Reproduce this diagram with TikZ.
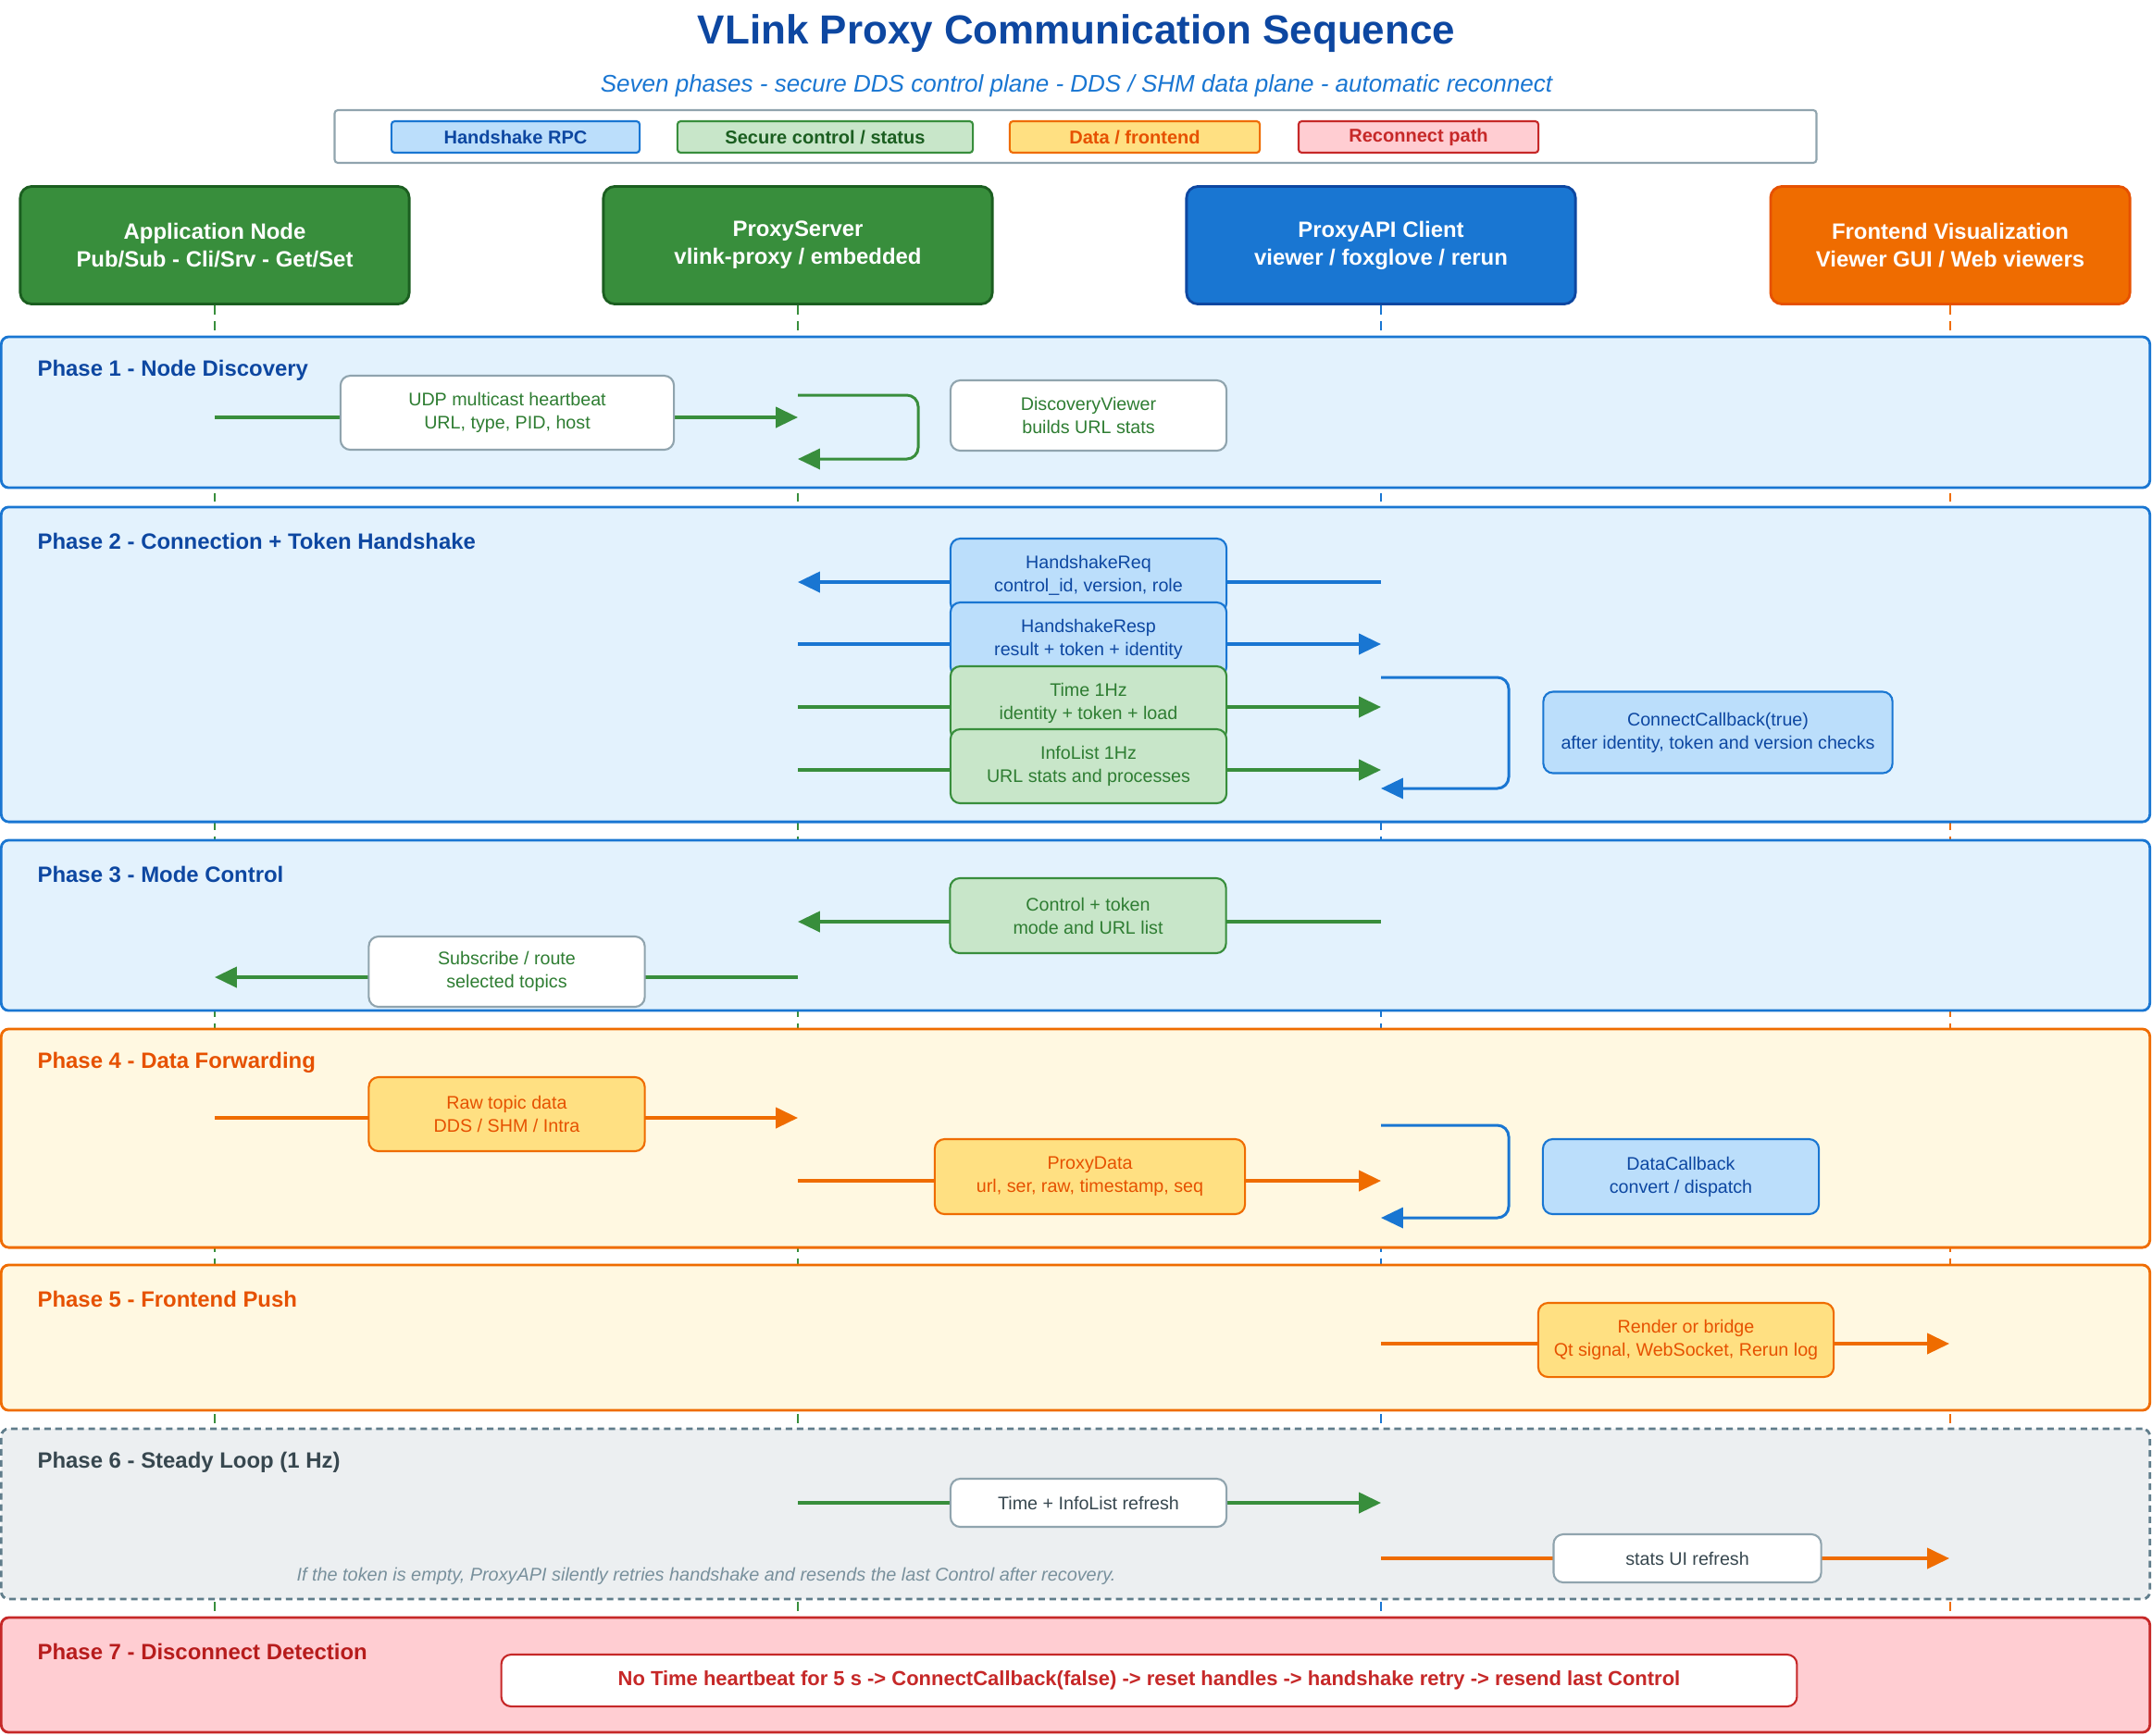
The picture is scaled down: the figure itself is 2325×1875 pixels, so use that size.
\documentclass[tikz,border=0pt]{standalone}
\usepackage{fontspec}
\setmainfont{Liberation Sans}
\usetikzlibrary{arrows.meta,positioning}

\definecolor{grnA}{HTML}{388E3C}
\definecolor{grnD}{HTML}{1B5E20}
\definecolor{grnT}{HTML}{2E7D32}
\definecolor{grnL}{HTML}{C8E6C9}
\definecolor{bluA}{HTML}{1976D2}
\definecolor{bluD}{HTML}{0D47A1}
\definecolor{bluL}{HTML}{BBDEFB}
\definecolor{bluP}{HTML}{E3F2FD}
\definecolor{orgA}{HTML}{EF6C00}
\definecolor{orgD}{HTML}{E65100}
\definecolor{orgL}{HTML}{FFE082}
\definecolor{orgP}{HTML}{FFF8E1}
\definecolor{redA}{HTML}{C62828}
\definecolor{redD}{HTML}{B71C1C}
\definecolor{redL}{HTML}{FFCDD2}
\definecolor{slateA}{HTML}{90A4AE}
\definecolor{slateM}{HTML}{607D8B}
\definecolor{slateD}{HTML}{37474F}
\definecolor{slateN}{HTML}{78909C}
\definecolor{slateL}{HTML}{ECEFF1}

\begin{document}
\begin{tikzpicture}[
  x=0.01cm,
  y=-0.01cm,
  font=\fontsize{5.6}{7.1}\selectfont,
  actor/.style={draw, rounded corners=3.5pt, line width=0.8pt, minimum width=4.2cm, minimum height=1.27cm, align=center, text=white, font=\fontsize{6.8}{8.5}\selectfont\bfseries},
  phase/.style={draw, rounded corners=2.3pt, line width=0.8pt, minimum width=23.2cm},
  phasetitle/.style={anchor=west, inner sep=0pt, font=\fontsize{6.8}{8}\selectfont\bfseries},
  msg/.style={draw, rounded corners=3pt, line width=0.6pt, minimum width=2.98cm, minimum height=0.8cm, align=center},
  plainmsg/.style={msg, fill=white, draw=slateA},
  bluemsg/.style={msg, fill=bluL, draw=bluA, text=bluD},
  greenmsg/.style={msg, fill=grnL, draw=grnA, text=grnT},
  orangemsg/.style={msg, fill=orgL, draw=orgA, text=orgD},
  legenditem/.style={draw, rounded corners=1pt, line width=0.6pt, minimum height=0.34cm, inner sep=0pt, font=\fontsize{5.7}{7}\selectfont\bfseries},
  lifeline/.style={line width=0.6pt, dash pattern=on 2.8pt off 2pt},
  msgline/.style={line width=1pt, -{Triangle[length=6.8pt,width=6.3pt]}},
  selfloop/.style={line width=0.85pt, rounded corners=3.5pt, -{Triangle[length=6.8pt,width=6.3pt]}}
]
  \useasboundingbox (0,0) rectangle (2325,1875);

  % header
  \node[text=bluD, font=\fontsize{12.5}{15}\selectfont\bfseries] (title) at (1163,36) {VLink Proxy Communication Sequence};
  \node[text=bluA, font=\fontsize{7.4}{9}\selectfont\itshape] (subtitle) at (1163,93) {Seven phases - secure DDS control plane - DDS / SHM data plane - automatic reconnect};

  \node[draw=slateA, fill=white, rounded corners=1pt, line width=0.6pt, minimum width=16cm, minimum height=0.57cm] (legbox) at (1162,147.5) {};
  \node[legenditem, fill=bluL, draw=bluA, text=bluD, minimum width=2.68cm] (lg1) at (557,148) {Handshake RPC};
  \node[legenditem, fill=grnL, draw=grnA, text=grnD, minimum width=3.19cm] (lg2) at (891.5,148) {Secure control / status};
  \node[legenditem, fill=orgL, draw=orgA, text=orgD, minimum width=2.70cm] (lg3) at (1226,148) {Data / frontend};
  \node[legenditem, fill=redL, draw=redA, text=redA, minimum width=2.59cm] (lg4) at (1532.5,148) {Reconnect path};

  % participants
  \node[actor, fill=grnA, draw=grnD] (app) at (232,265) {Application Node\\Pub/Sub - Cli/Srv - Get/Set};
  \node[actor, fill=grnA, draw=grnD] (server) at (862,265) {ProxyServer\\vlink-proxy / embedded};
  \node[actor, fill=bluA, draw=bluD] (client) at (1492,265) {ProxyAPI Client\\viewer / foxglove / rerun};
  \node[actor, fill=orgA, draw=orgD, minimum width=3.88cm] (front) at (2107,265) {Frontend Visualization\\Viewer GUI / Web viewers};

  \coordinate (bottom) at (0,1872);
  \draw[lifeline, grnA] (app.south) -- (app.south |- bottom);
  \draw[lifeline, grnA] (server.south) -- (server.south |- bottom);
  \draw[lifeline, bluA] (client.south) -- (client.south |- bottom);
  \draw[lifeline, orgA] (front.south) -- (front.south |- bottom);

  % phase frames
  \node[phase, fill=bluP, draw=bluA, minimum height=1.63cm] (ph1) at (1162,445.5) {};
  \node[phase, fill=bluP, draw=bluA, minimum height=3.40cm] (ph2) at (1162,718) {};
  \node[phase, fill=bluP, draw=bluA, minimum height=1.84cm] (ph3) at (1162,1000) {};
  \node[phase, fill=orgP, draw=orgA, minimum height=2.36cm] (ph4) at (1162,1230) {};
  \node[phase, fill=orgP, draw=orgA, minimum height=1.57cm] (ph5) at (1162,1445.5) {};
  \node[phase, fill=slateL, draw=slateM, dash pattern=on 2pt off 1.4pt, minimum height=1.84cm] (ph6) at (1162,1636) {};
  \node[phase, fill=redL, draw=redA, minimum height=1.24cm] (ph7) at (1162,1810) {};

  \node[phasetitle, text=bluD] (ph1t) at ([shift={(40,38)}]ph1.north west) {Phase 1 - Node Discovery};
  \node[phasetitle, text=bluD] (ph2t) at ([shift={(40,38)}]ph2.north west) {Phase 2 - Connection + Token Handshake};
  \node[phasetitle, text=bluD] (ph3t) at ([shift={(40,38)}]ph3.north west) {Phase 3 - Mode Control};
  \node[phasetitle, text=orgD] (ph4t) at ([shift={(40,38)}]ph4.north west) {Phase 4 - Data Forwarding};
  \node[phasetitle, text=orgD] (ph5t) at ([shift={(40,38)}]ph5.north west) {Phase 5 - Frontend Push};
  \node[phasetitle, text=slateD] (ph6t) at ([shift={(40,38)}]ph6.north west) {Phase 6 - Steady Loop (1 Hz)};
  \node[phasetitle, text=redD] (ph7t) at ([shift={(40,38)}]ph7.north west) {Phase 7 - Disconnect Detection};

  % phase 1
  \coordinate (p1a) at (232,451);
  \coordinate (p1s) at (862,451);
  \draw[msgline, grnA] (p1a) -- (p1s);
  \node[plainmsg, text=grnT, minimum width=3.6cm] (udp) at (548,446) {UDP multicast heartbeat\\URL, type, PID, host};
  \coordinate (p1lt) at (862,427);
  \coordinate (p1lb) at (862,496);
  \draw[selfloop, grnA] (p1lt) -- ++(130,0) -- ++(0,69) -- (p1lb);
  \node[plainmsg, text=grnT, minimum height=0.76cm] (disc) at (1176,449) {DiscoveryViewer\\builds URL stats};

  % phase 2
  \coordinate (hqC) at (1492,629);
  \coordinate (hqS) at (862,629);
  \draw[msgline, bluA] (hqC) -- (hqS);
  \node[bluemsg] (hreq) at (1176,622) {HandshakeReq\\control\_id, version, role};
  \coordinate (hpS) at (862,696);
  \coordinate (hpC) at (1492,696);
  \draw[msgline, bluA] (hpS) -- (hpC);
  \node[bluemsg] (hresp) at (1176,691) {HandshakeResp\\result + token + identity};
  \coordinate (tmS) at (862,764);
  \coordinate (tmC) at (1492,764);
  \draw[msgline, grnA] (tmS) -- (tmC);
  \node[greenmsg] (time) at (1176,760) {Time 1Hz\\identity + token + load};
  \coordinate (ilS) at (862,832);
  \coordinate (ilC) at (1492,832);
  \draw[msgline, grnA] (ilS) -- (ilC);
  \node[greenmsg] (info) at (1176,828) {InfoList 1Hz\\URL stats and processes};
  \coordinate (cbT) at (1492,732);
  \coordinate (cbB) at (1492,852);
  \draw[selfloop, bluA] (cbT) -- ++(138,0) -- ++(0,120) -- (cbB);
  \node[bluemsg, minimum width=3.77cm, minimum height=0.88cm] (ccb) at (1856,791.5) {ConnectCallback(true)\\after identity, token and version checks};

  % phase 3
  \coordinate (ctC) at (1492,996);
  \coordinate (ctS) at (862,996);
  \draw[msgline, grnA] (ctC) -- (ctS);
  \node[greenmsg, minimum height=0.81cm] (ctrl) at (1175.5,989.5) {Control + token\\mode and URL list};
  \coordinate (subS) at (862,1056);
  \coordinate (subA) at (232,1056);
  \draw[msgline, grnA] (subS) -- (subA);
  \node[plainmsg, text=grnT, minimum height=0.76cm] (sub) at (547.5,1050) {Subscribe / route\\selected topics};

  % phase 4
  \coordinate (rawA) at (232,1208);
  \coordinate (rawS) at (862,1208);
  \draw[msgline, orgA] (rawA) -- (rawS);
  \node[orangemsg] (raw) at (547.5,1204) {Raw topic data\\DDS / SHM / Intra};
  \coordinate (pdS) at (862,1276);
  \coordinate (pdC) at (1492,1276);
  \draw[msgline, orgA] (pdS) -- (pdC);
  \node[orangemsg, minimum width=3.35cm, minimum height=0.81cm] (pdata) at (1177.5,1271.5) {ProxyData\\url, ser, raw, timestamp, seq};
  \coordinate (dcT) at (1492,1216);
  \coordinate (dcB) at (1492,1316);
  \draw[selfloop, bluA] (dcT) -- ++(138,0) -- ++(0,100) -- (dcB);
  \node[bluemsg, minimum height=0.81cm] (dcb) at (1816,1271.5) {DataCallback\\convert / dispatch};

  % phase 5
  \coordinate (rbC) at (1492,1452);
  \coordinate (rbF) at (2106,1452);
  \draw[msgline, orgA] (rbC) -- (rbF);
  \node[orangemsg, minimum width=3.19cm] (render) at (1821.5,1448) {Render or bridge\\Qt signal, WebSocket, Rerun log};

  % phase 6
  \coordinate (srS) at (862,1624);
  \coordinate (srC) at (1492,1624);
  \draw[msgline, grnA] (srS) -- (srC);
  \node[plainmsg, text=slateD, minimum height=0.52cm] (refresh) at (1176,1624) {Time + InfoList refresh};
  \coordinate (suC) at (1492,1684);
  \coordinate (suF) at (2106,1684);
  \draw[msgline, orgA] (suC) -- (suF);
  \node[plainmsg, text=slateD, minimum width=2.89cm, minimum height=0.52cm] (stats) at (1823,1684) {stats UI refresh};
  \node[text=slateN, font=\fontsize{5.65}{6.8}\selectfont\itshape] (retry) at (763,1703) {If the token is empty, ProxyAPI silently retries handshake and resends the last Control after recovery.};

  % phase 7
  \node[msg, fill=white, draw=redA, text=redA, minimum width=13.99cm, minimum height=0.56cm, font=\fontsize{6.25}{7.5}\selectfont\bfseries] (lost) at (1241.5,1816) {No Time heartbeat for 5 s -> ConnectCallback(false) -> reset handles -> handshake retry -> resend last Control};
\end{tikzpicture}
\end{document}
